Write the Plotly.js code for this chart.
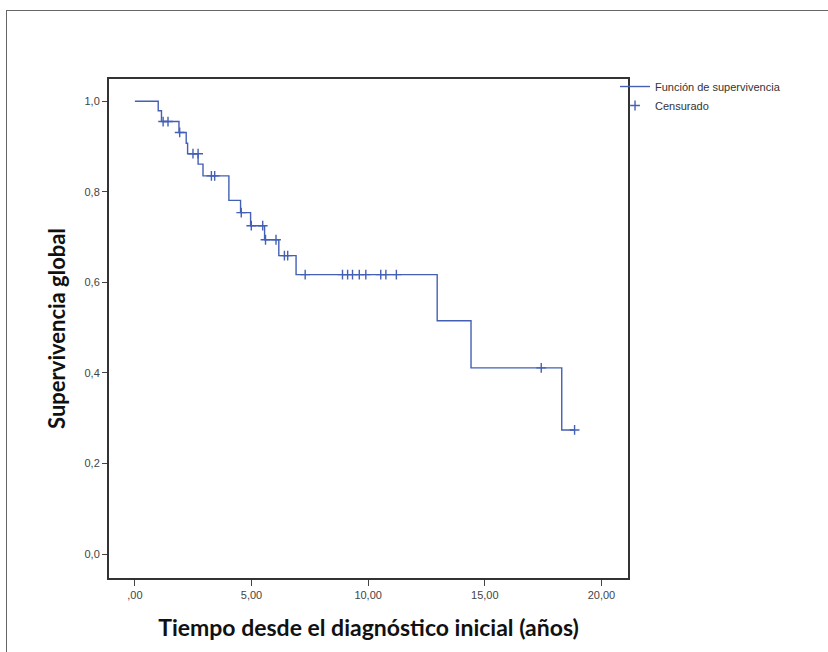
<!DOCTYPE html>
<html>
<head>
<meta charset="utf-8">
<script src="https://cdn.plot.ly/plotly-3.0.1.min.js"></script>
<style>
html,body{margin:0;padding:0;background:#fff;}
#frame{position:absolute;left:6px;top:10px;width:822px;height:642px;border-top:1px solid #666;border-left:1px solid #666;}
#chart{position:absolute;left:0;top:0;width:828px;height:652px;}
</style>
</head>
<body>
<div id="frame"></div>
<div id="chart"></div>
<script>
// Kaplan-Meier step curve (time in years, survival after step)
const stepTimes = [0, 1.0, 1.14, 1.89, 2.2, 2.26, 2.71, 2.92, 4.03, 4.53, 4.96, 5.56, 6.17, 6.91, 12.96, 14.41, 18.3, 18.85];
const stepSurv  = [1.0, 0.979, 0.955, 0.931, 0.907, 0.884, 0.861, 0.835, 0.781, 0.754, 0.725, 0.694, 0.659, 0.617, 0.515, 0.411, 0.274, 0.274];
// Censored observations
const censorTimes = [1.21, 1.42, 1.92, 2.49, 2.71, 3.28, 3.42, 4.56, 4.99, 5.48, 5.6, 6.05, 6.41, 6.55, 7.3, 8.9, 9.12, 9.33, 9.62, 9.9, 10.54, 10.76, 11.21, 17.42, 18.85];
const censorSurv  = [0.955, 0.955, 0.931, 0.884, 0.884, 0.835, 0.835, 0.754, 0.725, 0.725, 0.694, 0.694, 0.659, 0.659, 0.617, 0.617, 0.617, 0.617, 0.617, 0.617, 0.617, 0.617, 0.617, 0.411, 0.274];
// Tick labels
const xTickVals = [0, 5, 10, 15, 20];
const xTickText = [',00', '5,00', '10,00', '15,00', '20,00'];
const yTickVals = [0, 0.2, 0.4, 0.6, 0.8, 1.0];
const yTickText = ['0,0', '0,2', '0,4', '0,6', '0,8', '1,0'];

const blue = '#4360b5';
const traces = [
  {x: stepTimes, y: stepSurv, mode: 'lines', line: {shape: 'hv', color: blue, width: 1.4},
   name: 'Función de supervivencia', hoverinfo: 'x+y'},
  {x: censorTimes, y: censorSurv, mode: 'markers', name: 'Censurado',
   marker: {symbol: 'cross-thin', size: 7, color: blue, line: {color: blue, width: 1.4}}}
];
const layout = {
  width: 828, height: 652,
  margin: {l: 109, r: 200, t: 79, b: 74},
  paper_bgcolor: 'rgba(0,0,0,0)', plot_bgcolor: '#fff',
  showlegend: true,
  legend: {x: 0.975, y: 1.014, xanchor: 'left', yanchor: 'top', bgcolor: 'rgba(0,0,0,0)',
           font: {family: 'Liberation Sans, Arial, sans-serif', size: 11, color: '#333'},
           tracegroupgap: 0, itemwidth: 30},
  xaxis: {range: [-1.11, 21.14], tickvals: xTickVals, ticktext: xTickText, showgrid: false, zeroline: false,
          showline: true, linecolor: '#333', linewidth: 2, mirror: true,
          ticks: 'outside', ticklen: 6, tickcolor: '#444', tickwidth: 1,
          tickfont: {family: 'Liberation Sans, Arial, sans-serif', size: 11, color: '#444'},
          title: {text: 'Tiempo desde el diagnóstico inicial (años)', standoff: 20,
                  font: {family: 'Lato, Open Sans, sans-serif', size: 23, color: '#111', weight: 'bold'}}},
  yaxis: {range: [-0.053, 1.049], tickvals: yTickVals, ticktext: yTickText, showgrid: false, zeroline: false,
          showline: true, linecolor: '#333', linewidth: 2, mirror: true,
          ticks: 'outside', ticklen: 5, tickcolor: '#444', tickwidth: 1,
          tickfont: {family: 'Liberation Sans, Arial, sans-serif', size: 11, color: '#444'},
          title: {text: 'Supervivencia global', standoff: 13,
                  font: {family: 'Lato, Open Sans, sans-serif', size: 22, color: '#111', weight: 'bold'}}}
};
Plotly.newPlot('chart', traces, layout, {displayModeBar: false, staticPlot: true});
</script>
</body>
</html>
